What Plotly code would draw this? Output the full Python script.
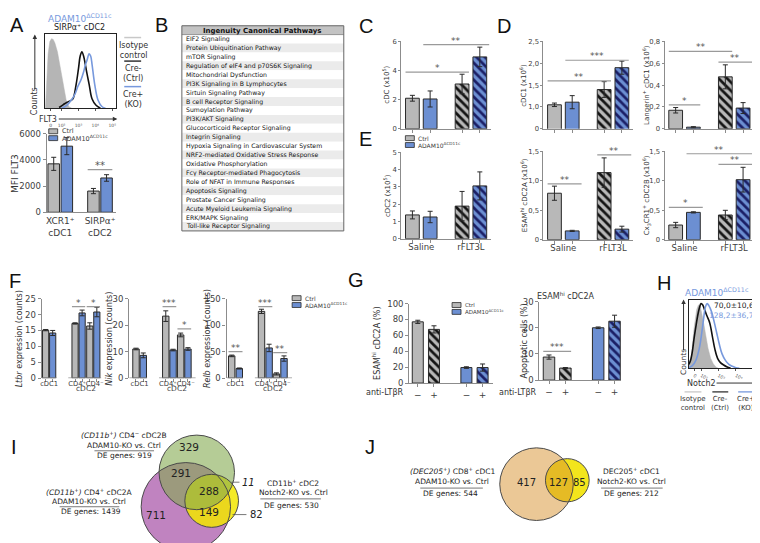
import plotly.graph_objects as go

W, H = 760, 543
FONT = "DejaVu Sans"
LFONT = "Liberation Sans"
GREY = "#b8b8b8"
BLUE = "#6c8fd2"
HBLUE = "#7799dd"
EDGE = "#2a2a2a"
NAVY = "#1b1f66"
AXC = "#8c8c8c"
TXT = "#404040"
SIGC = "#9a9a9a"

# ------------------------------------------------------------------ data
# Panel A histogram (FLT3, x = log10 decades, y = % of max)
a_iso_x = [1.04, 1.1, 1.2, 1.3, 1.4, 1.5, 1.6, 1.75, 1.88, 2.0, 2.1, 2.27, 2.43, 2.6]
a_iso_y = [0, 30, 75, 92, 96, 95, 90, 78, 61, 45, 33, 11, 2, 0]
a_ctrl_x = [1.85, 2.1, 2.3, 2.5, 2.67, 2.86, 3.0, 3.1, 3.2, 3.3, 3.4, 3.5, 3.63, 3.8, 4.04, 4.3]
a_ctrl_y = [1, 5, 8, 10, 13, 33, 55, 72, 78, 72, 61, 48, 33, 13, 4, 0]
a_ko_x = [2.0, 2.3, 2.6, 2.8, 2.96, 3.16, 3.3, 3.4, 3.5, 3.63, 3.72, 3.8, 3.96, 4.16, 4.4, 4.6]
a_ko_y = [0, 4, 12, 20, 30, 40, 50, 59, 66, 75, 72, 61, 33, 11, 2, 0]
hist_ticktext = ["0", "10²", "10³", "10⁴", "10⁵"]

# Panel A bars (MFI FLT3)
a_groups = ["XCR1⁺<br>cDC1", "SIRPα⁺<br>cDC2"]
a_ctrl = [3700, 1620]
a_ctrl_err = [500, 200]
a_ko = [5050, 2620]
a_ko_err = [650, 250]

# Panel B pathways
pathways = ["EIF2 Signaling", "Protein Ubiquitination Pathway", "mTOR Signaling",
            "Regulation of eIF4 and p70S6K Signaling", "Mitochondrial Dysfunction",
            "PI3K Signaling in B Lymphocytes", "Sirtuin Signaling Pathway",
            "B cell Receptor Signaling", "Sumoylation Pathway", "PI3K/AKT Signaling",
            "Glucocorticoid Receptor Signaling", "Integrin Signaling",
            "Hypoxia Signaling in Cardiovascular System",
            "NRF2-mediated Oxidative Stress Response", "Oxidative Phosphorylation",
            "Fcγ Receptor-mediated Phagocytosis", "Role of NFAT in Immune Responses",
            "Apoptosis Signaling", "Prostate Cancer Signaling",
            "Acute Myeloid Leukemia Signaling", "ERK/MAPK Signaling",
            "Toll-like Receptor Signaling"]

# Panels C-E (Saline vs rFLT3L)
ce_groups = ["Saline", "rFLT3L"]
c_ctrl, c_ctrl_err = [2.1, 3.08], [0.2, 0.67]
c_ko, c_ko_err = [2.05, 4.94], [0.55, 0.67]
d1_ctrl, d1_ctrl_err = [1.05, 1.4], [0.04, 0.18]
d1_ko, d1_ko_err = [1.11, 1.9], [0.15, 0.15]
d2_ctrl, d2_ctrl_err = [0.17, 0.476], [0.025, 0.11]
d2_ko, d2_ko_err = [0.015, 0.19], [0.005, 0.05]
e1_ctrl, e1_ctrl_err = [1.38, 1.89], [0.23, 0.85]
e1_ko, e1_ko_err = [1.26, 3.06], [0.33, 0.81]
e2_ctrl, e2_ctrl_err = [0.79, 1.14], [0.12, 0.25]
e2_ko, e2_ko_err = [0.15, 0.18], [0.01, 0.05]
e3_ctrl, e3_ctrl_err = [0.25, 0.42], [0.045, 0.08]
e3_ko, e3_ko_err = [0.465, 1.02], [0.01, 0.21]

# Panel F (RNA-seq counts)
f_groups = ["cDC1", "CD4⁺", "CD4⁻"]
ltbr_ctrl, ltbr_ctrl_err = [15.1, 17.2, 16.4], [0.2, 0.2, 1.0]
ltbr_ko, ltbr_ko_err = [14.2, 20.5, 20.8], [0.8, 0.9, 1.5]
nik_ctrl, nik_ctrl_err = [11.0, 23.4, 16.3], [0.3, 2.0, 0.7]
nik_ko, nik_ko_err = [8.6, 10.6, 11.0], [0.9, 0.3, 0.5]
relb_ctrl, relb_ctrl_err = [42, 126, 8], [1.5, 4, 2]
relb_ko, relb_ko_err = [18.2, 57, 37], [1, 7, 5]

# Panel G (anti-LTbR)
g_treat = ["−", "+"]
g1_ctrl, g1_ctrl_err = [77, 67.5], [2, 4.5]
g1_ko, g1_ko_err = [19.5, 19.5], [1, 4.5]
g2_ctrl, g2_ctrl_err = [8.8, 4.6], [0.8, 0.2]
g2_ko, g2_ko_err = [20, 22.5], [0.3, 2.3]

# Panel H histogram (Notch2)
h_iso_x = [1.3, 1.45, 1.6, 1.75, 1.85, 1.95, 2.1, 2.25, 2.4, 2.55, 2.7, 2.85, 3.0]
h_iso_y = [5, 20, 60, 88, 95, 93, 75, 50, 30, 15, 7, 2, 0]
h_ctrl_x = [1.3, 1.4, 1.5, 1.6, 1.7, 1.8, 1.9, 2.0, 2.1, 2.2, 2.35, 2.5, 2.65, 2.8, 2.95, 3.1, 3.3, 3.5, 3.7]
h_ctrl_y = [6, 12, 25, 45, 62, 78, 90, 97, 95, 88, 78, 68, 48, 28, 15, 9, 5, 2, 0]
h_ko_x = [1.3, 1.5, 1.7, 1.9, 2.05, 2.15, 2.25, 2.35, 2.45, 2.6, 2.75, 2.9, 3.05, 3.2, 3.4, 3.6, 3.8, 4.0, 4.2]
h_ko_y = [1, 4, 12, 30, 55, 75, 92, 97, 94, 85, 70, 53, 36, 22, 12, 6, 3, 1, 0]
h_mfi = ["70,0±10,6", "128,2±36,7"]

# Panels I / J Venn counts
i_counts = [329, 291, 288, 711, 149, 11, 82]
i_de = [919, 1439, 530]
j_counts = [417, 127, 85]
j_de = [544, 212]

# ------------------------------------------------------------------ helpers
fig = go.Figure()
shapes, annots = [], []
layout = {}
naxes = [0]


def X(p):
    return p / W


def Y(p):
    return 1 - p / H


def new_axes(xdom, ydom, xa, ya):
    naxes[0] += 1
    k = naxes[0]
    s = "" if k == 1 else str(k)
    layout["xaxis" + s] = dict(xa, domain=[X(xdom[0]), X(xdom[1])], anchor="y" + s)
    layout["yaxis" + s] = dict(ya, domain=[Y(ydom[1]), Y(ydom[0])], anchor="x" + s)
    return "x" + s, "y" + s


def txt(x, y, s, size=8, color=TXT, xa="center", ya="middle", angle=0, family=FONT):
    annots.append(dict(xref="paper", yref="paper", x=X(x), y=Y(y), text=s, showarrow=False,
                       xanchor=xa, yanchor=ya, textangle=angle,
                       font=dict(family=family, size=size, color=color)))


def pline(x0, y0, x1, y1, color, width=1):
    shapes.append(dict(type="line", xref="paper", yref="paper", x0=X(x0), y0=Y(y0), x1=X(x1), y1=Y(y1),
                       line=dict(color=color, width=width)))


def prect(x0, y0, x1, y1, fill, line=None, lw=1):
    shapes.append(dict(type="rect", xref="paper", yref="paper", x0=X(x0), y0=Y(y1), x1=X(x1), y1=Y(y0),
                       fillcolor=fill if fill else "rgba(0,0,0,0)",
                       line=dict(color=line, width=lw) if line else dict(width=0)))


def arrow(x0, y0, x1, y1):
    # axis-style arrow from (x0, y0) to an arrowhead at (x1, y1); offsets in screen pixels
    annots.append(dict(xref="paper", yref="paper", x=X(x1), y=Y(y1), ax=x0 - x1, ay=y0 - y1,
                       text="", showarrow=True, arrowhead=2, arrowsize=0.9, arrowwidth=1,
                       arrowcolor="#333"))


def mini_legend(x, y, size=6):
    prect(x, y, x + 9, y + 5, GREY, EDGE, 0.8)
    prect(x, y + 7, x + 9, y + 12, BLUE, EDGE, 0.8)
    txt(x + 11, y + 2.5, "Ctrl", size, xa="left")
    txt(x + 11, y + 9.5, "ADAM10<sup>ΔCD11c</sup>", size, xa="left")


def bar_axes(xdom, ydom, xr, yr, ytv, ytt, xtv=(), xtt=(), minor=None, xline=True,
             tfs=7.5, xfs=8.5, xticks="", yticklen=3):
    xa = dict(type="linear", range=xr, showgrid=False, zeroline=False, showline=xline, linecolor=AXC,
              linewidth=1.3, tickmode="array", tickvals=list(xtv), ticktext=list(xtt), ticks=xticks,
              ticklen=3, tickcolor=AXC, tickangle=0, tickfont=dict(size=xfs, color=TXT), fixedrange=True)
    if minor is not None:
        xa["minor"] = dict(tickmode="array", tickvals=minor, ticks="outside", ticklen=3,
                           tickcolor=AXC, tickwidth=1)
    ya = dict(type="linear", range=yr, showgrid=False, zeroline=False, showline=True, linecolor=AXC,
              linewidth=1.3, tickmode="array", tickvals=ytv, ticktext=ytt, ticks="outside",
              ticklen=yticklen, tickcolor=AXC, tickwidth=1, tickfont=dict(size=tfs, color=TXT),
              fixedrange=True)
    return new_axes(xdom, ydom, xa, ya)


def add_bars(xa, ya, pos, vals, errs, w, off, col, fg, hatch):
    fig.add_trace(go.Bar(
        x=pos, y=vals, width=w, offset=off, xaxis=xa, yaxis=ya,
        marker=dict(color=col, line=dict(color=EDGE, width=1),
                    pattern=dict(shape=["\\" if h else "" for h in hatch], fgcolor=fg, bgcolor=col,
                                 fillmode="replace", size=6, solidity=0.45)),
        error_y=dict(type="data", array=errs, visible=True, color=EDGE, thickness=1, width=2.5),
        showlegend=False, hoverinfo="skip"))


def paired(xa, ya, pos, ctrl, cerr, ko, kerr, w, gap, hatch):
    add_bars(xa, ya, pos, ctrl, cerr, w, -w - gap / 2, GREY, "#141414", hatch)
    add_bars(xa, ya, pos, ko, kerr, w, gap / 2, BLUE, NAVY, hatch)
    lc = [p - w / 2 - gap / 2 for p in pos]
    lk = [p + w / 2 + gap / 2 for p in pos]
    return lc, lk


def sig(xa, ya, x0, x1, y, label, size=9):
    shapes.append(dict(type="line", xref=xa, yref=ya, x0=x0, x1=x1, y0=y, y1=y,
                       line=dict(color=SIGC, width=1.2)))
    annots.append(dict(xref=xa, yref=ya, x=(x0 + x1) / 2, y=y, text=label, showarrow=False,
                       yanchor="bottom", yshift=-3, font=dict(size=size, color="#555")))


def hist_axes(xdom, ydom, xr, tv):
    xa = dict(range=xr, showgrid=False, zeroline=False, showline=True, mirror=True, linecolor="#222",
              linewidth=1, tickmode="array", tickvals=tv, ticktext=hist_ticktext, ticks="outside",
              ticklen=2, tickcolor="#555", tickfont=dict(size=4.5, color="#555"),
              fixedrange=True)
    ya = dict(range=[0, 103], showgrid=False, zeroline=False, showline=True, mirror=True,
              linecolor="#222", linewidth=1, showticklabels=False, ticks="", fixedrange=True)
    return new_axes(xdom, ydom, xa, ya)


def hist(xa, ya, iso_x, iso_y, c_x, c_y, k_x, k_y):
    fig.add_trace(go.Scatter(x=iso_x, y=iso_y, mode="lines", fill="tozeroy", fillcolor="#b5b5b5",
                             line=dict(color="#b5b5b5", width=0.5), xaxis=xa, yaxis=ya,
                             showlegend=False, hoverinfo="skip"))
    fig.add_trace(go.Scatter(x=c_x, y=c_y, mode="lines", line=dict(color="#111", width=1.6, shape="spline"),
                             xaxis=xa, yaxis=ya, showlegend=False, hoverinfo="skip"))
    fig.add_trace(go.Scatter(x=k_x, y=k_y, mode="lines", line=dict(color=HBLUE, width=1.6, shape="spline"),
                             xaxis=xa, yaxis=ya, showlegend=False, hoverinfo="skip"))


HATCH_CE = [False, True]

# ------------------------------------------------------------------ panel letters
for L, lx, ly in [("A", 7, 12), ("B", 152, 12), ("C", 358, 13), ("D", 497, 13), ("E", 358, 128),
                  ("F", 5, 273), ("G", 348, 272), ("H", 658, 275), ("I", 4, 442), ("J", 362, 442)]:
    txt(lx, ly, L, 20, "#111", family=LFONT)

# ------------------------------------------------------------------ A histogram
xa, ya = hist_axes((35, 107), (21, 97), [1.0, 5.24], [1.35, 2, 3, 4, 5])
hist(xa, ya, a_iso_x, a_iso_y, a_ctrl_x, a_ctrl_y, a_ko_x, a_ko_y)
txt(70, 5, "ADAM10<sup>ΔCD11c</sup>", 9, HBLUE)
txt(70, 15, "SIRPα⁺ cDC2", 8, "#222")
arrow(25, 78, 25, 22)
txt(25, 90, "Counts", 8, "#333", angle=-90)
txt(38, 108, "FLT3", 8, "#333")
arrow(48, 108, 108, 108)
pline(115, 25, 132, 25, "#c8c8c8", 1.5)
txt(124, 38, "Isotype<br>control", 8, "#333")
pline(115, 49, 132, 49, "#333", 1.5)
txt(124, 62, "Cre-<br>(Ctrl)", 8, "#333")
pline(115, 75, 132, 75, HBLUE, 1.5)
txt(124, 88, "Cre+<br>(KO)", 8, "#333")

# ------------------------------------------------------------------ A bars
pos = list(range(len(a_groups)))
xa, ya = bar_axes((37, 107), (123, 203), [-0.34, 1.41], [0, 6000], [0, 2000, 4000, 6000],
                  ["0", "2000", "4000", "6000"], pos, a_groups, tfs=8.5, xfs=9)
layout["xaxis"]["ticklabelstandoff"] = 10
lc, lk = paired(xa, ya, pos, a_ctrl, a_ctrl_err, a_ko, a_ko_err, 0.29, 0.04, [False, False])
sig(xa, ya, lc[1] - 0.145, lk[1] + 0.145, 3250, "**", 10)
txt(5, 163, "MFI FLT3", 9, "#333", angle=-90)
mini_legend(39, 118, 6.5)

# ------------------------------------------------------------------ B table
tx0, tx1, ty0, thead, tbot = 173, 336, 13, 22, 222
row_h = (tbot - thead) / len(pathways)
prect(tx0, ty0, tx1, thead, "#c3c3c3")
txt((tx0 + tx1) / 2, (ty0 + thead) / 2 + 0.5, "<b>Ingenuity Canonical Pathways</b>", 7, "#111")
for i, name in enumerate(pathways):
    r0 = thead + i * row_h
    prect(tx0, r0, tx1, r0 + row_h, "#ffffff" if i % 2 == 0 else "#ebebeb")
    txt(tx0 + 2, r0 + row_h / 2, name, 6.2, "#111111", xa="left")
pline(tx0, thead, tx1, thead, "#777", 0.8)
prect(tx0, ty0, tx1, tbot, None, "#666", 1)

# ------------------------------------------------------------------ C / D / E
W_CE, G_CE, R_CE = 0.277, 0.08, [-0.4, 1.4]
pos = list(range(len(ce_groups)))


def ce_panel(xdom, ydom, yr, ytv, ytt, ctrl, cerr, ko, kerr, labels, ylabel, ylx):
    half = W_CE / 2 + G_CE / 2
    minor = sorted([p - half for p in pos] + [p + half for p in pos])
    xa, ya = bar_axes(xdom, ydom, R_CE, yr, ytv, ytt, pos if labels else [],
                      ce_groups if labels else [], minor=minor, tfs=6.8, yticklen=2)
    lc, lk = paired(xa, ya, pos, ctrl, cerr, ko, kerr, W_CE, G_CE, HATCH_CE)
    txt(ylx, (ydom[0] + ydom[1]) / 2, ylabel, 7, "#333", angle=-90)
    return xa, ya, [c - W_CE / 2 for c in lc], [c + W_CE / 2 for c in lc], \
        [c - W_CE / 2 for c in lk], [c + W_CE / 2 for c in lk]


xa, ya, cl, cr, kl, kr = ce_panel((394, 484), (29, 118), [0, 6], [0, 2, 4, 6], ["0", "2", "4", "6"],
                                  c_ctrl, c_ctrl_err, c_ko, c_ko_err, False, "cDC (x10<sup>5</sup>)", 379)
sig(xa, ya, cl[0], cr[1], 3.9, "*")
sig(xa, ya, kl[0], kr[1] + 0.05, 5.78, "**")

xa, ya, cl, cr, kl, kr = ce_panel((537, 627), (29, 118), [0.5, 2.5], [0.5, 1, 1.5, 2, 2.5],
                                  ["0", "1,0", "1,5", "2,0", "2,5"],
                                  d1_ctrl, d1_ctrl_err, d1_ko, d1_ko_err, False, "cDC1 (x10<sup>6</sup>)", 517)
sig(xa, ya, cl[0], cr[1], 1.6, "**")
sig(xa, ya, kl[0], kr[1], 2.07, "***")

xa, ya, cl, cr, kl, kr = ce_panel((659, 749), (29, 118), [0, 0.8], [0, 0.2, 0.4, 0.6, 0.8],
                                  ["0", "0,2", "0,4", "0,6", "0,8"],
                                  d2_ctrl, d2_ctrl_err, d2_ko, d2_ko_err, False,
                                  "Langerin<sup>+</sup> cDC1 (x10<sup>6</sup>)", 640)
sig(xa, ya, cl[0], kr[0], 0.22, "*")
sig(xa, ya, cl[0], cr[1], 0.71, "**")
sig(xa, ya, cl[1], kr[1] + 0.05, 0.61, "**")

xa, ya, cl, cr, kl, kr = ce_panel((394, 484), (142, 230), [0, 5], [0, 1, 2, 3, 4, 5],
                                  ["0", "1", "2", "3", "4", "5"],
                                  e1_ctrl, e1_ctrl_err, e1_ko, e1_ko_err, True, "cDC2 (x10<sup>5</sup>)", 379)
mini_legend(398, 125, 6)

xa, ya, cl, cr, kl, kr = ce_panel((537, 627), (141, 231), [0, 1.5], [0, 0.5, 1, 1.5],
                                  ["0", "0,5", "1,0", "1,5"],
                                  e2_ctrl, e2_ctrl_err, e2_ko, e2_ko_err, True,
                                  "ESAM<sup>hi</sup> cDC2A (x10<sup>6</sup>)", 517)
sig(xa, ya, cl[0], kr[0] + 0.05, 0.95, "**")
sig(xa, ya, cl[1], kr[1] + 0.05, 1.44, "**")

xa, ya, cl, cr, kl, kr = ce_panel((659, 749), (141, 231), [0, 1.5], [0, 0.5, 1, 1.5],
                                  ["0", "0,5", "1,0", "1,5"],
                                  e3_ctrl, e3_ctrl_err, e3_ko, e3_ko_err, True,
                                  "Cx<sub>3</sub>CR1<sup>+</sup> cDC2B (x10<sup>6</sup>)", 640)
sig(xa, ya, cl[0], kr[0] + 0.05, 0.55, "*")
sig(xa, ya, kl[0], kr[1] + 0.05, 1.46, "**")
sig(xa, ya, cl[1], kr[1] + 0.05, 1.28, "**")

# ------------------------------------------------------------------ F
f_pos = [0, 2, 3]          # category slots, gap after cDC1
f_label_pos = [0, 1.9, 3.1]
F_TOP, F_BOT = 291, 372


def f_panel(xdom, xr, w, gap, yr, ytv, ctrl, cerr, ko, kerr, ylabel, ylx):
    half = w / 2 + gap / 2
    minor = sorted([p - half for p in f_pos] + [p + half for p in f_pos])
    xa, ya = bar_axes(xdom, (F_TOP, F_BOT), xr, yr, ytv, [str(v) for v in ytv], f_label_pos, f_groups,
                      minor=minor, xline=False, tfs=8.5, xfs=6.8)
    lc, lk = paired(xa, ya, f_pos, ctrl, cerr, ko, kerr, w, gap, [False] * 3)
    for x0, x1 in [(xr[0], 0.5), (1.3, xr[1])]:
        shapes.append(dict(type="line", xref=xa, yref=ya, x0=x0, x1=x1, y0=0, y1=0,
                           line=dict(color=AXC, width=1.3)))
    annots.append(dict(xref=xa, yref="paper", x=2.5, y=Y(F_BOT + 17), text="cDC2", showarrow=False,
                       font=dict(size=7.5, color=TXT)))
    txt(ylx, (F_TOP + F_BOT) / 2, ylabel, 8, "#333", angle=-90)
    return xa, ya, [c - w / 2 for c in lc], [c + w / 2 for c in lk]


xa, ya, l_, r_ = f_panel((32, 92), [-0.5, 3.55], 0.42, 0.06, [0, 25], [0, 5, 10, 15, 20, 25],
                         ltbr_ctrl, ltbr_ctrl_err, ltbr_ko, ltbr_ko_err,
                         "<i>Ltbr</i> expression (counts)", 9)
sig(xa, ya, l_[1], r_[1], 22.5, "*", 9)
sig(xa, ya, l_[2], r_[2], 22.5, "*", 9)

xa, ya, l_, r_ = f_panel((120, 187), [-0.7, 3.77], 0.43, 0.06, [0, 30], [0, 10, 20, 30],
                         nik_ctrl, nik_ctrl_err, nik_ko, nik_ko_err,
                         "<i>Nik</i> expression (counts)", 100)
sig(xa, ya, l_[1], r_[1], 27, "***", 9)
sig(xa, ya, l_[2], r_[2], 18.6, "*", 9)

xa, ya, l_, r_ = f_panel((218, 284), [-0.6, 3.8], 0.43, 0.08, [0, 150], [0, 50, 100, 150],
                         relb_ctrl, relb_ctrl_err, relb_ko, relb_ko_err,
                         "<i>Relb</i> expression (counts)", 199)
sig(xa, ya, l_[0], r_[0], 50, "**", 9)
sig(xa, ya, l_[1], r_[1], 135, "***", 9)
sig(xa, ya, l_[2], r_[2], 48, "**", 9)
mini_legend(284, 288, 6)

# ------------------------------------------------------------------ G
g_ctrl_pos = [0, 1]
g_ko_pos = [3, 4]
g_ticks = g_ctrl_pos + g_ko_pos
g_ticktext = g_treat + g_treat


def g_panel(xdom, ydom, xr, w, yr, ytv, ctrl, cerr, ko, kerr, ylabel, ylx):
    xa, ya = bar_axes(xdom, ydom, xr, yr, ytv, [str(v) for v in ytv], g_ticks, g_ticktext,
                      tfs=8.5, xfs=9, xticks="outside")
    add_bars(xa, ya, g_ctrl_pos, ctrl, cerr, w, -w / 2, GREY, "#141414", [False, True])
    add_bars(xa, ya, g_ko_pos, ko, kerr, w, -w / 2, BLUE, NAVY, [False, True])
    txt(ylx, (ydom[0] + ydom[1]) / 2, ylabel, 8, "#333", angle=-90)
    return xa, ya


xa, ya = g_panel((402, 486), (296, 377), [-0.52, 4.63], 0.68, [0, 100], [0, 20, 40, 60, 80, 100],
                 g1_ctrl, g1_ctrl_err, g1_ko, g1_ko_err, "ESAM<sup>hi</sup> cDC2A (%)", 369)
mini_legend(445, 295, 5.5)
xa, ya = g_panel((533, 615), (294, 374), [-0.58, 4.39], 0.7, [0, 30], [0, 10, 20, 30],
                 g2_ctrl, g2_ctrl_err, g2_ko, g2_ko_err, "Apoptotic cells (%)", 518)
sig(xa, ya, -0.35, 1.35, 11, "***", 9)
txt(560, 288, "ESAM<sup>hi</sup> cDC2A", 8, "#333")
txt(399, 387, "anti-LTβR", 8, "#333", xa="right")
txt(532, 387, "anti-LTβR", 8, "#333", xa="right")

# ------------------------------------------------------------------ H
xa, ya = hist_axes((683, 754), (292, 362), [1.28, 5.33], [1.6, 2, 3, 4, 5])
hist(xa, ya, h_iso_x, h_iso_y, h_ctrl_x, h_ctrl_y, h_ko_x, h_ko_y)
txt(712, 284, "ADAM10<sup>ΔCD11c</sup>", 9, HBLUE)
txt(751, 298, h_mfi[0], 7.5, "#222", xa="right")
txt(751, 308, h_mfi[1], 7.5, HBLUE, xa="right")
arrow(678, 344, 678, 292)
txt(678, 356, "Counts", 7.5, "#333", angle=-90)
txt(696, 377, "Notch2", 8, "#333")
arrow(710, 377, 752, 377)
pline(679, 386, 696, 386, "#c8c8c8", 1.3)
pline(707, 386, 723, 386, "#333", 1.3)
pline(733, 386, 749, 386, HBLUE, 1.3)
txt(688, 398, "Isotype<br>control", 7, "#333")
txt(715, 398, "Cre-<br>(Ctrl)", 7, "#333")
txt(741, 398, "Cre+<br>(KO)", 7, "#333")

# ------------------------------------------------------------------ Venn I
def circle(cx, cy, r, fill=None, opacity=1.0, line=None):
    shapes.append(dict(type="circle", xref="paper", yref="paper", x0=X(cx - r), x1=X(cx + r),
                       y0=Y(cy + r), y1=Y(cy - r), fillcolor=fill if fill else "rgba(0,0,0,0)",
                       opacity=opacity, line=dict(color=line, width=1) if line else dict(width=0)))


i_circles = [(177, 503, 45), (203, 497, 27), (188, 468, 38)]   # purple, yellow, green
circle(*i_circles[0], fill="#c083c0")
circle(*i_circles[1], fill="rgb(242,230,0)", opacity=0.85)
circle(*i_circles[2], fill="rgb(132,170,80)", opacity=0.6)
for c in i_circles:
    circle(*c, line="#4a4a4a")
i_pos = [(180, 442), (172, 469), (200, 487), (147, 511), (200, 508)]
for (x, y), v in zip(i_pos, i_counts[:5]):
    txt(x, y, str(v), 10.5, "#222")
txt(232, 478, "<i>%d</i>" % i_counts[5], 10, "#222", xa="left")
pline(223, 478, 231, 478, "#555", 0.8)
txt(240, 511, str(i_counts[6]), 10, "#222", xa="left")
pline(224, 511, 238, 511, "#555", 0.8)
txt(115, 430, "<i>(CD11b<sup>+</sup>)</i> CD4<sup>−</sup> cDC2B", 7.5, "#222")
txt(115, 441, "ADAM10-KO vs. Ctrl", 7.5, "#222")
pline(85, 446, 145, 446, "#555", 0.8)
txt(115, 451, "DE genes: %d" % i_de[0], 7.5, "#222")
txt(80, 488, "<i>(CD11b<sup>+</sup>)</i> CD4<sup>+</sup> cDC2A", 7.5, "#222")
txt(80, 498, "ADAM10-KO vs. Ctrl", 7.5, "#222")
pline(50, 503, 110, 503, "#555", 0.8)
txt(82, 508, "DE genes: %d" % i_de[1], 7.5, "#222")
txt(285, 479, "CD11b<sup>+</sup> cDC2", 7.5, "#222")
txt(285, 489, "Notch2-KO vs. Ctrl", 7.5, "#222")
pline(252, 495, 313, 495, "#555", 0.8)
txt(283, 502, "DE genes: %d" % i_de[2], 7.5, "#222")

# ------------------------------------------------------------------ Venn J
j_circles = [(530, 480, 37), (561, 476, 22)]   # orange, yellow
circle(*j_circles[1], fill="#f3e51c")
circle(*j_circles[0], fill="rgb(215,145,45)", opacity=0.5)
for c in j_circles:
    circle(*c, line="#4a4a4a")
for (x, y), v in zip([(520, 478), (552, 478), (573, 478)], j_counts):
    txt(x, y, str(v), 10, "#222")
txt(445, 467, "<i>(DEC205<sup>+</sup>)</i> CD8<sup>+</sup> cDC1", 7.5, "#222")
txt(445, 477, "ADAM10-KO vs. Ctrl", 7.5, "#222")
pline(413, 484, 476, 484, "#555", 0.8)
txt(443, 490, "DE genes: %d" % j_de[0], 7.5, "#222")
txt(626, 467, "DEC205<sup>+</sup> cDC1", 7.5, "#222")
txt(626, 477, "Notch2-KO vs. Ctrl", 7.5, "#222")
pline(595, 484, 657, 484, "#555", 0.8)
txt(626, 490, "DE genes: %d" % j_de[1], 7.5, "#222")

# ------------------------------------------------------------------ layout
fig.update_layout(width=W, height=H, margin=dict(l=0, r=0, t=0, b=0), paper_bgcolor="white",
                  plot_bgcolor="rgba(0,0,0,0)", showlegend=False, barmode="overlay", hovermode=False,
                  font=dict(family=FONT, size=8, color=TXT), shapes=shapes, annotations=annots, **layout)
fig.write_html("out.html")
